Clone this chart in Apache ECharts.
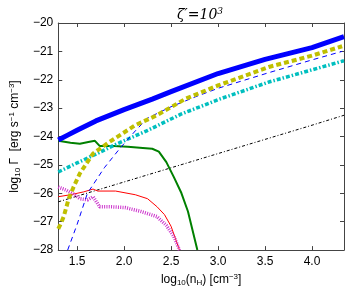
<!DOCTYPE html>
<html><head><meta charset="utf-8">
<script src="https://cdn.jsdelivr.net/npm/echarts@6/dist/echarts.min.js"></script>
<style>html,body{margin:0;padding:0;background:#fff}#c{width:349px;height:292px}</style>
</head><body><div id="c"></div>
<script>
const xTicks = [1.5, 2.0, 2.5, 3.0, 3.5, 4.0];
const yTicks = [-28, -27, -26, -25, -24, -23, -22, -21, -20];

const blueThickX = [1.30, 1.40, 1.50, 1.70, 2.00, 2.30, 2.50, 3.00, 3.50, 4.00, 4.34];
const blueThickY = [-24.12, -23.95, -23.78, -23.45, -23.05, -22.68, -22.42, -21.78, -21.28, -20.87, -20.48];

const yellowX = [1.30, 1.33, 1.36, 1.41, 1.46, 1.53, 1.67, 1.84, 2.12, 2.35, 2.66, 3.00, 3.54, 4.00, 4.32];
const yellowY = [-27.25, -27.05, -26.8, -26.2, -25.8, -25.3, -24.6, -24.2, -23.6, -23.25, -22.66, -22.2, -21.55, -21.15, -20.82];

const blueDashX = [1.40, 1.50, 1.61, 1.79, 1.96, 2.12, 2.25, 2.50, 2.76, 3.00, 3.54, 4.00, 4.32];
const blueDashY = [-28.0, -27.1, -26.0, -25.1, -24.4, -23.8, -23.35, -22.95, -22.6, -22.3, -21.75, -21.3, -21.0];

const cyanX = [1.30, 1.50, 1.70, 1.93, 2.24, 2.60, 3.00, 3.54, 4.00, 4.34];
const cyanY = [-25.25, -24.93, -24.62, -24.25, -23.8, -23.22, -22.7, -22.08, -21.65, -21.33];

const greenX = [1.30, 1.43, 1.53, 1.62, 1.69, 1.74, 1.89, 2.04, 2.20, 2.30, 2.37, 2.45, 2.53, 2.61, 2.68, 2.78];
const greenY = [-24.15, -24.22, -24.25, -24.19, -24.15, -24.33, -24.33, -24.36, -24.4, -24.43, -24.53, -24.9, -25.43, -25.99, -26.64, -28.0];

const redX = [1.30, 1.43, 1.57, 1.67, 1.72, 1.91, 2.12, 2.25, 2.35, 2.43, 2.50, 2.59];
const redY = [-26.12, -26.05, -25.95, -25.85, -25.92, -25.92, -26.05, -26.19, -26.47, -26.75, -27.16, -28.0];

const magentaX = [1.30, 1.38, 1.46, 1.53, 1.61, 1.67, 1.74, 1.84, 2.01, 2.18, 2.35, 2.45, 2.53, 2.59];
const magentaY = [-25.78, -25.88, -26.02, -26.19, -26.23, -26.12, -26.47, -26.47, -26.5, -26.64, -26.82, -27.13, -27.52, -28.0];

const blackX = [1.30, 2.00, 3.00, 4.00, 4.34];
const blackY = [-26.30, -25.60, -24.60, -23.60, -23.25];

function pts(xs, ys) { return xs.map((x, i) => [x, ys[i]]); }
function fmt(v) { return String(v).replace('-', '\u2212'); }

const chart = echarts.init(document.getElementById('c'), null, {renderer: 'canvas'});
const axisCol = '#444';
const tickFont = {fontFamily: 'Liberation Sans, Arial, sans-serif', fontSize: 12, color: '#000'};
const nameRich = {sb: {fontSize: 8, verticalAlign: 'bottom', padding: [5,0,0,0]}, sp: {fontSize: 8, verticalAlign: 'top', padding: [0,0,6,0]}};

function line(data, color, width, type, z) {
  return {type: 'line', data: data, showSymbol: false, symbol: 'none', smooth: false, z: z || 2,
    lineStyle: {color: color, width: width, type: type, cap: 'butt'}};
}

chart.setOption({
  animation: false,
  title: {
    text: '\u03B6\u2032=10{s|3}', left: 195, top: 2, textAlign: 'center',
    textStyle: {fontFamily: 'DejaVu Serif, serif', fontStyle: 'italic', fontWeight: 'normal', fontSize: 14, color: '#000',
      rich: {s: {fontFamily: 'DejaVu Serif, serif', fontSize: 9, verticalAlign: 'top', padding: [0,0,7,0]}}}
  },
  grid: {left: 47, right: 5, top: 23, bottom: 38, containLabel: false},
  xAxis: [{
    type: 'value', min: 1.3, max: 4.34,
    axisLine: {show: true, onZero: false, lineStyle: {color: axisCol, width: 1}},
    axisTick: {show: true, inside: true, length: 4, customValues: xTicks, lineStyle: {color: axisCol}},
    axisLabel: {customValues: xTicks, formatter: v => v.toFixed(1), margin: 6, ...tickFont},
    splitLine: {show: false},
    name: 'log{sb|10}(n{sb|H}) [cm{sp|\u22123}]', nameLocation: 'middle', nameGap: 22,
    nameTextStyle: {fontFamily: 'Liberation Sans, Arial, sans-serif', fontSize: 12, color: '#000', rich: nameRich}
  }, {
    type: 'value', min: 1.3, max: 4.34, position: 'top',
    axisLine: {show: true, onZero: false, lineStyle: {color: axisCol, width: 1}},
    axisTick: {show: true, inside: true, length: 4, customValues: xTicks, lineStyle: {color: axisCol}},
    axisLabel: {show: false}, splitLine: {show: false}
  }],
  yAxis: [{
    type: 'value', min: -28, max: -20, interval: 1,
    axisLine: {show: true, onZero: false, lineStyle: {color: axisCol, width: 1}},
    axisTick: {show: true, inside: true, length: 4, lineStyle: {color: axisCol}},
    axisLabel: {formatter: v => fmt(v), margin: 5, ...tickFont},
    splitLine: {show: false},
    name: 'log{sb|10} \u0393  [erg s{sp|\u22121} cm{sp|\u22123}]', nameLocation: 'middle', nameGap: 31, nameRotate: 90,
    nameTextStyle: {fontFamily: 'Liberation Sans, Arial, sans-serif', fontSize: 12, color: '#000', rich: nameRich}
  }, {
    type: 'value', min: -28, max: -20, interval: 1, position: 'right',
    axisLine: {show: true, onZero: false, lineStyle: {color: axisCol, width: 1}},
    axisTick: {show: true, inside: true, length: 4, lineStyle: {color: axisCol}},
    axisLabel: {show: false}, splitLine: {show: false}
  }],
  series: [
    line(pts(blackX, blackY), '#000000', 1, [3, 2, 1, 2], 2),
    line(pts(redX, redY), '#ff0000', 1, 'solid', 3),
    line(pts(magentaX, magentaY), '#cc33cc', 3.5, [1, 1.3], 3),
    line(pts(greenX, greenY), '#008000', 2, 'solid', 4),
    line(pts(cyanX, cyanY), '#00bfbf', 3.5, [4, 2, 1.5, 2], 5),
    line(pts(blueDashX, blueDashY), '#0000ff', 1, [5, 4], 5),
    line(pts(yellowX, yellowY), '#bfbf00', 4, [5, 3], 6),
    line(pts(blueThickX, blueThickY), '#0000ff', 5, 'solid', 7)
  ]
});
</script></body></html>
